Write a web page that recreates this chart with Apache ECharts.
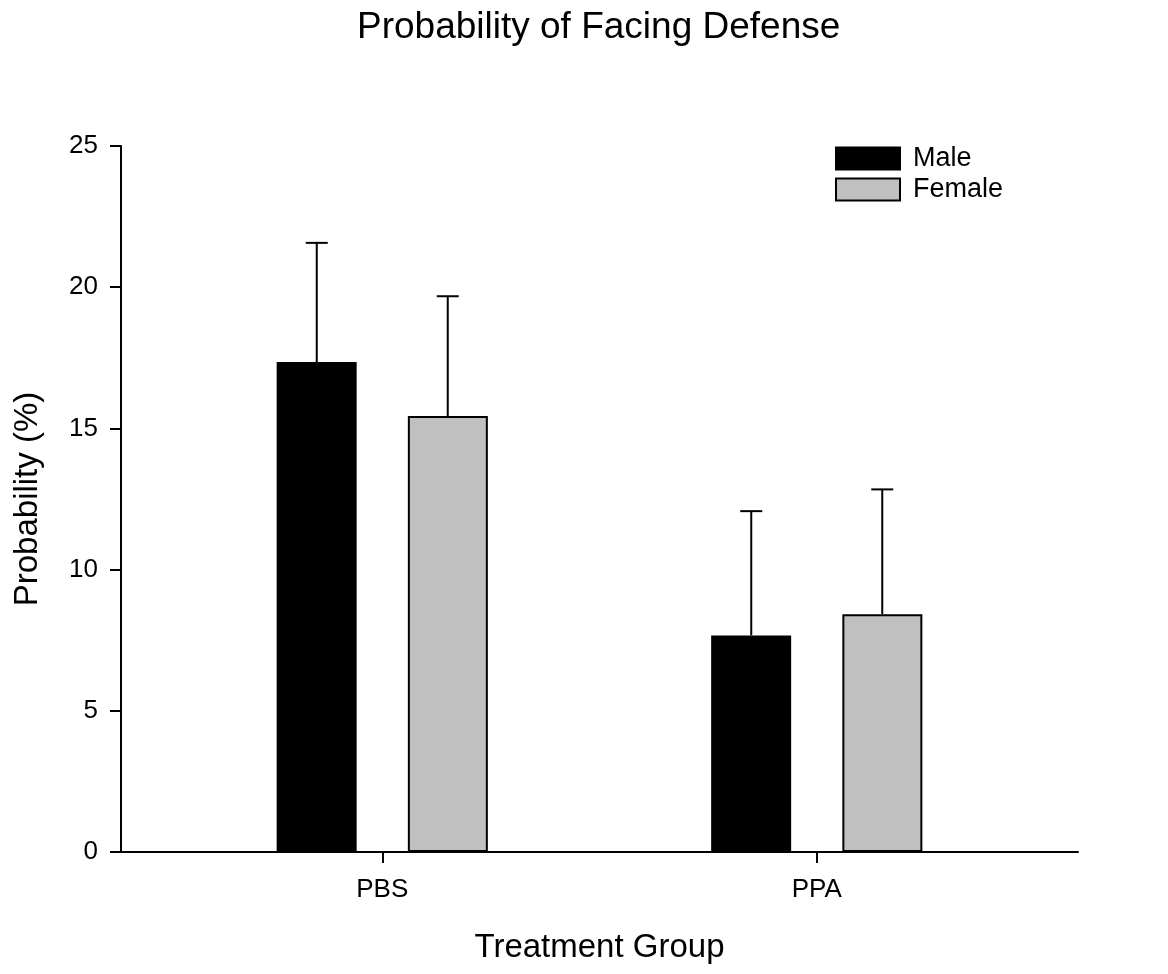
<!DOCTYPE html>
<html>
<head>
<meta charset="utf-8">
<script src="https://cdn.jsdelivr.net/npm/echarts@6/dist/echarts.min.js"></script>
<style>html,body{margin:0;padding:0;background:#fff}#c{width:1168px;height:974px}</style>
</head>
<body>
<div id="c"></div>
<script>
const categories = ['PBS', 'PPA'];
const seriesNames = ['Male', 'Female'];
const maleMean = [17.35, 7.67];
const maleUpper = [21.57, 12.07];
const femaleMean = [15.44, 8.42];
const femaleUpper = [19.68, 12.84];
const yTicks = [0, 5, 10, 15, 20, 25];

const FONT = '"Liberation Sans", Arial, sans-serif';
const chart = echarts.init(document.getElementById('c'));

function errData(mean, upper) {
  return mean.map((m, i) => [i, m, upper[i]]);
}
function errRender(offset) {
  return function (params, api) {
    const p0 = api.coord([api.value(0), api.value(1)]);
    const p1 = api.coord([api.value(0), api.value(2)]);
    const x = p0[0] + offset;
    const style = { stroke: '#000', lineWidth: 2, fill: null };
    return {
      type: 'group',
      children: [
        { type: 'line', shape: { x1: x, y1: p0[1], x2: x, y2: p1[1] }, style },
        { type: 'line', shape: { x1: x - 11, y1: p1[1], x2: x + 11, y2: p1[1] }, style }
      ]
    };
  };
}

const yCommon = { type: 'value', min: yTicks[0], max: yTicks[yTicks.length - 1], interval: 5 };

chart.setOption({
  animation: false,
  backgroundColor: '#fff',
  textStyle: { fontFamily: FONT },
  title: {
    text: 'Probability of Facing Defense',
    left: 357,
    top: 9,
    padding: 0,
    textStyle: { fontFamily: FONT, fontSize: 37, fontWeight: 'normal', color: '#000' }
  },
  legend: {
    data: seriesNames,
    orient: 'vertical',
    left: 835,
    top: 145,
    padding: 0,
    itemWidth: 64,
    itemHeight: 22,
    itemGap: 4,
    icon: 'rect',
    textStyle: { fontFamily: FONT, fontSize: 27, lineHeight: 22, color: '#000', padding: [0, 0, 0, 8] },
    selectedMode: false
  },
  grid: [
    { left: 121, right: 90, top: 146, bottom: 122 },
    { left: 165, right: 134, top: 146, bottom: 122 }
  ],
  xAxis: [
    {
      gridIndex: 0, type: 'value', min: 0, max: 1,
      axisLine: { show: true, lineStyle: { color: '#000', width: 2 } },
      axisTick: { show: false }, axisLabel: { show: false }, splitLine: { show: false },
      name: 'Treatment Group', nameLocation: 'middle', nameGap: 79,
      nameTextStyle: { fontFamily: FONT, fontSize: 33, color: '#000' }
    },
    {
      gridIndex: 1, type: 'category', data: categories,
      axisLine: { show: false },
      axisTick: { show: true, alignWithLabel: true, length: 11, lineStyle: { color: '#000', width: 2 } },
      axisLabel: { fontFamily: FONT, fontSize: 26, color: '#000', margin: 25 },
      splitLine: { show: false }
    }
  ],
  yAxis: [
    Object.assign({}, yCommon, {
      gridIndex: 0,
      axisLine: { show: true, lineStyle: { color: '#000', width: 2 } },
      axisTick: { show: true, length: 11, lineStyle: { color: '#000', width: 2 } },
      axisLabel: { fontFamily: FONT, fontSize: 26, color: '#000', margin: 23 },
      splitLine: { show: false },
      name: 'Probability (%)', nameLocation: 'middle', nameGap: 77, nameRotate: 90,
      nameTextStyle: { fontFamily: FONT, fontSize: 33, color: '#000' }
    }),
    Object.assign({}, yCommon, {
      gridIndex: 1, show: false, splitLine: { show: false }
    })
  ],
  series: [
    {
      name: 'Male', type: 'bar', xAxisIndex: 1, yAxisIndex: 1,
      data: maleMean, barWidth: 80, barGap: '64%',
      itemStyle: { color: '#000', borderColor: '#000', borderWidth: 2 }
    },
    {
      name: 'Female', type: 'bar', xAxisIndex: 1, yAxisIndex: 1,
      data: femaleMean, barWidth: 80, barGap: '64%',
      itemStyle: { color: '#c0c0c0', borderColor: '#000', borderWidth: 2 }
    },
    {
      type: 'custom', xAxisIndex: 1, yAxisIndex: 1, z: 1,
      data: errData(maleMean, maleUpper), renderItem: errRender(-65.5), silent: true
    },
    {
      type: 'custom', xAxisIndex: 1, yAxisIndex: 1, z: 1,
      data: errData(femaleMean, femaleUpper), renderItem: errRender(65.5), silent: true
    }
  ]
});
</script>
</body>
</html>
